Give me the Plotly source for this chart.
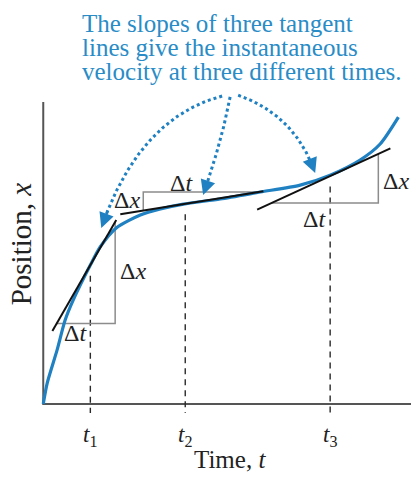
import numpy as np
import plotly.graph_objects as go

# ---- data ---------------------------------------------------------------
# position-versus-time curve (time, position)
curve_t = [0, 0.11, 0.38, 0.60, 0.82, 1.29, 1.56, 2.00, 2.66, 3.21, 3.84,
           4.85, 5.95, 7.04, 7.86, 8.68, 9.23, 9.73]
curve_x = [0, 0.70, 1.79, 2.78, 3.44, 4.60, 5.20, 5.83, 6.26, 6.46, 6.62,
           6.79, 7.02, 7.25, 7.58, 8.08, 8.61, 9.50]

# the three instants and the tangent lines drawn there
tick_labels = ["<i>t</i><sub>1</sub>", "<i>t</i><sub>2</sub>", "<i>t</i><sub>3</sub>"]
tan_t = [1.29, 3.89, 7.86]
tan_x = [4.60, 6.63, 7.55]
tan_slope = [2.10, 0.196, 0.556]
tan_from = [0.25, 2.11, 5.86]
tan_to = [2.00, 6.03, 9.51]

# slope triangles: time span and which corner holds the right angle
tri_from = [0.37, 2.74, 6.26]
tri_to = [1.97, 5.88, 9.18]
tri_corner = ["below", "above", "below"]

title_lines = ["The slopes of three tangent",
               "lines give the instantaneous",
               "velocity at three different times."]

# ---- styling ------------------------------------------------------------
BLUE = "#1f80c2"
TEXT_BLUE = "#2a8cc6"
AXIS = "#555555"
TRI = "#8c8c8c"
INK = "#222222"
SERIF = "Liberation Serif"
XR = [-0.5, 10.075]
YR = [-0.4, 10.4]


def px(t):
    """data time -> paper fraction"""
    return (t - XR[0]) / (XR[1] - XR[0])


def py(v):
    """data position -> paper fraction"""
    return (v - YR[0]) / (YR[1] - YR[0])


def label(x, y, text, size, color=INK, **kw):
    opts = dict(xanchor="center", yanchor="middle")
    opts.update(kw)
    fig.add_annotation(x=px(x), y=py(y), xref="paper", yref="paper", text=text,
                       showarrow=False, font=dict(family=SERIF, size=size, color=color),
                       **opts)


fig = go.Figure()


def tangent_at(i, t):
    return tan_x[i] + tan_slope[i] * (t - tan_t[i])


# axes drawn as lines through the origin
fig.add_trace(go.Scatter(x=[0, 0, 10.1], y=[10, 0, 0], mode="lines",
                         line=dict(color=AXIS, width=2), hoverinfo="skip"))

# dashed drop lines at t1, t2, t3
for i in range(3):
    fig.add_trace(go.Scatter(x=[tan_t[i], tan_t[i]], y=[tan_x[i] - 0.35, -0.3],
                             mode="lines",
                             line=dict(color="#2a2a2a", width=1.4, dash="6px,5px"),
                             hoverinfo="skip"))

# slope triangles
for i in range(3):
    a, b = tri_from[i], tri_to[i]
    ya, yb = tangent_at(i, a), tangent_at(i, b)
    if tri_corner[i] == "below":
        xs, ys = [a, b, b], [ya, ya, yb]
    else:
        xs, ys = [a, a, b], [ya, yb, yb]
    fig.add_trace(go.Scatter(x=xs, y=ys, mode="lines",
                             line=dict(color=TRI, width=1.5), hoverinfo="skip"))

# position curve
fig.add_trace(go.Scatter(x=curve_t, y=curve_x, mode="lines",
                         line=dict(color=BLUE, width=3.2, shape="spline", smoothing=0.7),
                         hoverinfo="skip"))

# tangent lines
for i in range(3):
    fig.add_trace(go.Scatter(x=[tan_from[i], tan_to[i]],
                             y=[tangent_at(i, tan_from[i]), tangent_at(i, tan_to[i])],
                             mode="lines", line=dict(color="#111111", width=2),
                             hoverinfo="skip"))

# dotted callout arrows (quadratic Bezier paths)
arrow_start = [(4.90, 10.20), (5.12, 10.17), (5.34, 10.23)]
arrow_ctrl = [(2.62, 9.47), (4.90, 8.74), (6.90, 9.57)]
arrow_tip = [(1.59, 5.83), (4.38, 6.92), (7.45, 7.65)]
s = np.linspace(0, 1, 80)
for p0, c, p2 in zip(arrow_start, arrow_ctrl, arrow_tip):
    bx = (1 - s) ** 2 * p0[0] + 2 * (1 - s) * s * c[0] + s ** 2 * p2[0]
    by = (1 - s) ** 2 * p0[1] + 2 * (1 - s) * s * c[1] + s ** 2 * p2[1]
    fig.add_trace(go.Scatter(x=bx[:-4], y=by[:-4], mode="lines",
                             line=dict(color=BLUE, width=3, dash="3px,3px"),
                             hoverinfo="skip"))
    fig.add_annotation(x=p2[0], y=p2[1], ax=bx[-8], ay=by[-8],
                       xref="x", yref="y", axref="x", ayref="y", text="",
                       showarrow=True, arrowhead=2, arrowsize=1.2,
                       arrowwidth=2.5, arrowcolor=BLUE)

# delta labels beside the triangles
delta_pos = [
    ("Δ<i>x</i>", 2.47, 4.40), ("Δ<i>t</i>", 0.88, 2.35),
    ("Δ<i>x</i>", 2.30, 6.75), ("Δ<i>t</i>", 3.78, 7.32),
    ("Δ<i>x</i>", 9.67, 7.38), ("Δ<i>t</i>", 7.42, 6.13),
]
for txt, x, y in delta_pos:
    label(x, y, txt, 24)

# tick labels under the axis
for i in range(3):
    label(tan_t[i], -1.05, tick_labels[i], 23)

# axis titles
label(5.12, -1.85, "Time, <i>t</i>", 25)
label(-0.6, 5.3, "Position, <i>x</i>", 29, textangle=-90)

# explanatory text at the top
for k, line in enumerate(title_lines):
    label(1.0, 13.13 - k * 0.80, line, 25, color=TEXT_BLUE,
          xanchor="left", yanchor="top")

fig.update_layout(
    width=411, height=477,
    margin=dict(l=25, r=0, t=90, b=61),
    paper_bgcolor="white", plot_bgcolor="white",
    showlegend=False,
    xaxis=dict(range=XR, visible=False, fixedrange=True),
    yaxis=dict(range=YR, visible=False, fixedrange=True),
)

fig.write_html("out.html")
